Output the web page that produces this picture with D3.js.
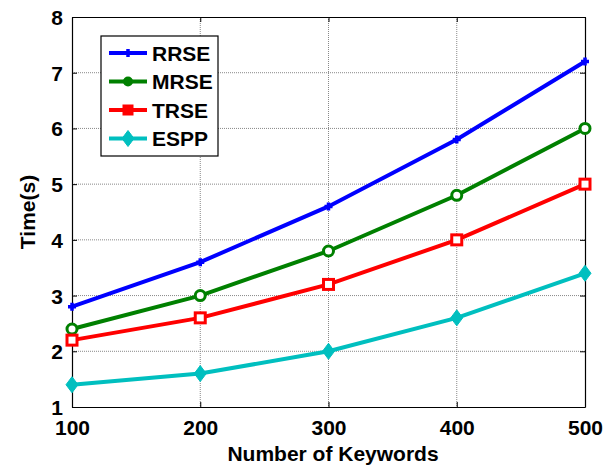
<!DOCTYPE html>
<html>
<head>
<meta charset="utf-8">
<script src="https://cdn.jsdelivr.net/npm/d3@7"></script>
<style>
    body { margin: 0; background: #fff; }
    text { font-family: "Liberation Sans", Arial, sans-serif; font-weight: bold; }
</style>
</head>
<body>
<div id="chart"></div>
<script>
// data
let keywords = [100, 200, 300, 400, 500];
let rrse = [2.8, 3.6, 4.6, 5.8, 7.2];
let mrse = [2.4, 3.0, 3.8, 4.8, 6.0];
let trse = [2.2, 2.6, 3.2, 4.0, 5.0];
let espp = [1.4, 1.6, 2.0, 2.6, 3.4];
let xTicks = [100, 200, 300, 400, 500];
let yTicks = [1, 2, 3, 4, 5, 6, 7, 8];

let series = [
    {name: "RRSE", values: rrse, color: "#0000ff", marker: "plus"},
    {name: "MRSE", values: mrse, color: "#008000", marker: "circle"},
    {name: "TRSE", values: trse, color: "#ff0000", marker: "square"},
    {name: "ESPP", values: espp, color: "#00bfbf", marker: "diamond"}
];

let margin = {top: 17, right: 26, bottom: 62, left: 72};
let width = 611 - margin.left - margin.right;
let height = 469 - margin.top - margin.bottom;

let svg = d3.select("#chart").append("svg")
    .attr("width", 611)
    .attr("height", 469)
    .append("g")
    .attr("transform", "translate(" + margin.left + "," + margin.top + ")");

let x = d3.scaleLinear().domain([100, 500]).range([0, width]);
let y = d3.scaleLinear().domain([1, 8]).range([height, 0]);

// grid
svg.append("g").selectAll("line.gx")
    .data(xTicks.slice(1, -1))
    .enter().append("line")
    .attr("x1", d => x(d)).attr("x2", d => x(d))
    .attr("y1", 0).attr("y2", height)
    .attr("stroke", "#888").attr("stroke-width", 1)
    .attr("stroke-dasharray", "1,1");

svg.append("g").selectAll("line.gy")
    .data(yTicks.slice(1, -1))
    .enter().append("line")
    .attr("x1", 0).attr("x2", width)
    .attr("y1", d => y(d)).attr("y2", d => y(d))
    .attr("stroke", "#888").attr("stroke-width", 1)
    .attr("stroke-dasharray", "1,1");

// axes (ticks pointing inward)
let xAxis = svg.append("g")
    .attr("transform", "translate(0," + height + ")")
    .call(d3.axisBottom(x).tickValues(xTicks).tickSizeInner(-5).tickSizeOuter(0).tickPadding(13).tickFormat(d3.format("d")));
let yAxis = svg.append("g")
    .call(d3.axisLeft(y).tickValues(yTicks).tickSizeInner(-5).tickSizeOuter(0).tickPadding(9).tickFormat(d3.format("d")));
svg.append("g")
    .call(d3.axisTop(x).tickValues(xTicks).tickSizeInner(-5).tickSizeOuter(0).tickFormat(""));
svg.append("g")
    .attr("transform", "translate(" + width + ",0)")
    .call(d3.axisRight(y).tickValues(yTicks).tickSizeInner(-5).tickSizeOuter(0).tickFormat(""));

svg.selectAll(".domain").attr("stroke", "#000").attr("stroke-width", 1.2);
svg.selectAll(".tick line").attr("stroke", "#000");
svg.selectAll(".tick text").style("font-size", "21px").attr("fill", "#000");
xAxis.selectAll(".tick text").attr("dy", "0.72em");
yAxis.selectAll(".tick text").attr("dy", "0.36em");

// axis labels
svg.append("text")
    .attr("x", 333 - margin.left)
    .attr("y", 461 - margin.top)
    .attr("text-anchor", "middle")
    .style("font-size", "21px")
    .text("Number of Keywords");

svg.append("text")
    .attr("transform", "translate(" + (35 - margin.left) + "," + (height / 2) + ") rotate(-90)")
    .attr("text-anchor", "middle")
    .style("font-size", "21px")
    .text("Time(s)");

function drawMarker(g, type, color) {
    if (type === "plus") {
        g.append("path").attr("d", "M-4,0H4M0,-4V4")
            .attr("stroke", color).attr("stroke-width", 3.5).attr("fill", "none");
    } else if (type === "circle") {
        g.append("circle").attr("r", 5)
            .attr("stroke", color).attr("stroke-width", 3).attr("fill", "#fff");
    } else if (type === "square") {
        g.append("rect").attr("x", -5).attr("y", -5).attr("width", 10).attr("height", 10)
            .attr("stroke", color).attr("stroke-width", 3).attr("fill", "#fff");
    } else {
        g.append("path").attr("d", "M0,-8L6,0L0,8L-6,0Z")
            .attr("fill", color).attr("stroke", color).attr("stroke-width", 1);
    }
}

let line = d3.line().x((d, i) => x(keywords[i])).y(d => y(d));

series.forEach(s => {
    svg.append("path")
        .datum(s.values)
        .attr("d", line)
        .attr("fill", "none")
        .attr("stroke", s.color)
        .attr("stroke-width", 4);
    s.values.forEach((v, i) => {
        let g = svg.append("g").attr("transform", "translate(" + x(keywords[i]) + "," + y(v) + ")");
        drawMarker(g, s.marker, s.color);
    });
});

// legend
let legend = svg.append("g")
    .attr("transform", "translate(" + (101 - margin.left) + "," + (36 - margin.top) + ")");
legend.append("rect")
    .attr("width", 117).attr("height", 120)
    .attr("fill", "#fff").attr("stroke", "#000").attr("stroke-width", 1.2);

series.forEach((s, i) => {
    let yy = 17 + i * 28.5;
    legend.append("line")
        .attr("x1", 8).attr("x2", 46).attr("y1", yy).attr("y2", yy)
        .attr("stroke", s.color).attr("stroke-width", 4);
    let g = legend.append("g").attr("transform", "translate(27," + yy + ")");
    if (s.marker === "circle" || s.marker === "square") {
        // legend markers look filled
        if (s.marker === "circle") g.append("circle").attr("r", 5).attr("fill", s.color);
        else g.append("rect").attr("x", -5.5).attr("y", -5.5).attr("width", 11).attr("height", 11).attr("fill", s.color);
    } else {
        drawMarker(g, s.marker, s.color);
    }
    legend.append("text")
        .attr("x", 51).attr("y", yy)
        .attr("dy", "0.36em")
        .style("font-size", "21px")
        .text(s.name);
});
</script>
</body>
</html>
